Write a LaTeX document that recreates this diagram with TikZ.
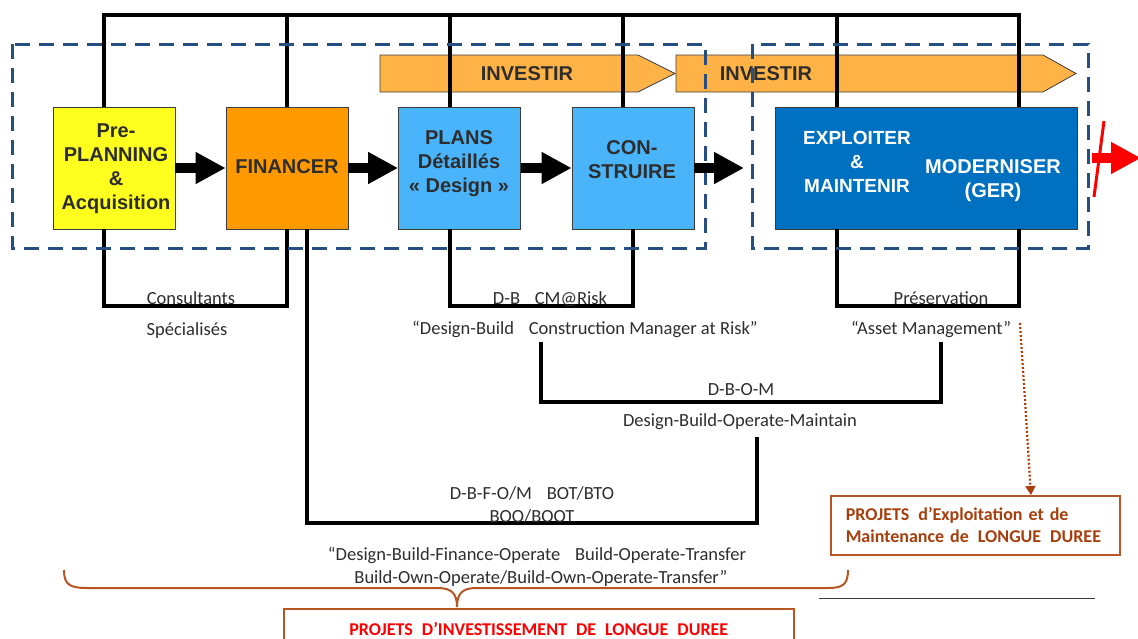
\documentclass[tikz,border=0pt]{standalone}
\usepackage{fontspec}
\setmainfont{Carlito}
\newfontfamily\headfont{Liberation Sans}
\usetikzlibrary{arrows.meta}

\definecolor{prefill}{RGB}{255,255,31}
\definecolor{finfill}{RGB}{255,153,0}
\definecolor{bluelight}{RGB}{74,180,250}
\definecolor{bluedark}{RGB}{0,112,192}
\definecolor{bannerfill}{RGB}{255,179,71}
\definecolor{zoneblue}{RGB}{38,78,128}
\definecolor{edgegray}{RGB}{60,60,60}
\definecolor{inkgray}{RGB}{45,45,45}
\definecolor{boxbrown}{RGB}{185,85,35}
\definecolor{textbrown}{RGB}{168,62,12}

\begin{document}
\begin{tikzpicture}[x=1pt,y=-1pt,
  stage/.style={draw=edgegray, line width=0.8pt, minimum width=122pt, minimum height=122pt, inner sep=0pt},
  stagetext/.style={font=\headfont\bfseries\fontsize{20}{24}\selectfont, text=inkgray, align=center, inner sep=0pt},
  frame/.style={line width=4pt, line join=miter},
  flow/.style={line width=10pt, -{Triangle[length=30pt,width=30pt]}},
  zone/.style={draw=zoneblue, line width=3pt, dash pattern=on 15pt off 9pt},
  banner/.style={fill=bannerfill, draw=edgegray, line width=0.8pt},
  note/.style={font=\fontsize{18.5}{22}\selectfont, text=inkgray, anchor=base, inner sep=0pt},
]
\useasboundingbox (0,0) rectangle (1138,638);

% INVESTIR banners
\path[banner] (380,55) -- (638,55) -- (675,73.5) -- (638,92) -- (380,92) -- cycle;
\path[banner] (676,55) -- (1043,55) -- (1076,73.5) -- (1043,92) -- (676,92) -- cycle;
\node[stagetext] (inv1) at (527,73.5) {INVESTIR};
\node[stagetext] (inv2) at (766,73.5) {INVESTIR};

% stage boxes
\node[stage, fill=prefill] (pre) at (114,168) {};
\node[stage, fill=finfill] (fin) at (287,168) {};
\node[stage, fill=bluelight] (plans) at (459.5,168) {};
\node[stage, fill=bluelight] (con) at (633,168) {};
\node[stage, fill=bluedark, minimum width=302pt] (ops) at (926,168) {};

\node[stagetext] (pre-t) at (116,169) {Pre-\\PLANNING\\\&\\Acquisition};
\node[stagetext] (fin-t) at (287,167) {FINANCER};
\node[stagetext] (plans-t) at (459,164) {PLANS\\Détaillés\\« Design »};
\node[stagetext] (con-t) at (632,160) {CON-\\STRUIRE};
\node[stagetext, text=white, font=\headfont\bfseries\fontsize{19}{24}\selectfont] (ops-t) at (857,162) {EXPLOITER\\\&\\MAINTENIR};
\node[stagetext, text=white] (mod-t) at (993,181) {MODERNISER\\(GER)};

% upper frame
\coordinate (t1) at (104,14.5);
\coordinate (t2) at (287,14.5);
\coordinate (t3) at (450,14.5);
\coordinate (t4) at (623,14.5);
\coordinate (t5) at (837,14.5);
\coordinate (t6) at (1019,14.5);
\draw[frame] (t1 |- pre.north) -- (t1) -- (t6) -- (t6 |- ops.north);
\draw[frame] (t2) -- (t2 |- fin.north);
\draw[frame] (t3) -- (t3 |- plans.north);
\draw[frame] (t4) -- (t4 |- con.north);
\draw[frame] (t5) -- (t5 |- ops.north);

% lower brackets
\coordinate (lvl) at (0,306);
\draw[frame] (t1 |- pre.south) -- (t1 |- lvl) -- (t2 |- lvl) -- (t2 |- fin.south);
\draw[frame] (t3 |- plans.south) -- (t3 |- lvl) -- (con.south |- lvl) -- (con.south);
\draw[frame] (t5 |- ops.south) -- (t5 |- lvl) -- (t6 |- lvl) -- (t6 |- ops.south);

\coordinate (dbom-a) at (541,342);
\coordinate (dbom-b) at (541,402);
\coordinate (dbom-c) at (941,402);
\coordinate (dbom-d) at (941,342);
\draw[frame] (dbom-a) -- (dbom-b) -- (dbom-c) -- (dbom-d);

\coordinate (dbf-b) at (307,523);
\coordinate (dbf-c) at (757,523);
\coordinate (dbf-d) at (757,437);
\draw[frame] (dbf-b |- fin.south) -- (dbf-b) -- (dbf-c) -- (dbf-d);

% dashed zones
\draw[zone] (12,44) rectangle (705,248);
\draw[zone] (752,44) rectangle (1088,248);

% flow arrows
\draw[flow] (pre.east) -- (fin.west);
\draw[flow] (fin.east) -- (plans.west);
\draw[flow] (plans.east) -- (con.west);
\coordinate (con-out) at (744,168);
\draw[flow] (con.east) -- (con-out);

% interrupted exit arrow
\coordinate (exit-a) at (1092,158);
\coordinate (exit-b) at (1141,158);
\draw[flow, red] (exit-a) -- (exit-b);
\coordinate (cut-a) at (1104,121);
\coordinate (cut-b) at (1094,197);
\draw[red, line width=3pt] (cut-a) -- (cut-b);

% bracket labels
\node[note] (cons) at (191,304) {Consultants};
\node[note] (spec) at (187,335) {Spécialisés};
\node[note] (dbcm) at (550,304) {D-B\hspace{0.8em}CM@Risk};
\node[note] (dbcm-l) at (585,334) {“Design-Build\hspace{0.8em}Construction Manager at Risk”};
\node[note] (pres) at (941,304) {Préservation};
\node[note] (asset) at (931,334) {“Asset Management”};
\node[note] (dbom) at (741,395) {D-B-O-M};
\node[note] (dbom-l) at (740,426) {Design-Build-Operate-Maintain};
\node[note] (dbf) at (532,499) {D-B-F-O/M\hspace{0.8em}BOT/BTO};
\node[note] (boo) at (532,522) {BOO/BOOT};
\node[note] (dbf-l1) at (537,560) {“Design-Build-Finance-Operate\hspace{0.8em}Build-Operate-Transfer};
\node[note] (dbf-l2) at (541,583) {Build-Own-Operate/Build-Own-Operate-Transfer”};

% long-term investment brace and box
\draw[boxbrown, line width=2pt] (64,570) .. controls (64,585) and (70,588) .. (88,588) -- (438,588)
  .. controls (452,588) and (457,594) .. (457,607)
  .. controls (457,594) and (462,588) .. (476,588) -- (828,588)
  .. controls (842,588) and (848,585) .. (848,570);
\node[draw=boxbrown, line width=1.5pt, anchor=north west, minimum width=510pt, minimum height=40pt,
  inner sep=0pt, font=\bfseries\fontsize{18}{21}\selectfont, text=red] (invbox) at (283,608)
  {PROJETS\hspace{0.5em}D’INVESTISSEMENT\hspace{0.5em}DE\hspace{0.5em}LONGUE\hspace{0.5em}DUREE};

% operation and maintenance box
\node[draw=boxbrown, line width=1.5pt, anchor=north west, minimum width=289pt, minimum height=59pt,
  text width=259pt, inner xsep=15pt, inner ysep=0pt, align=left,
  font=\bfseries\fontsize{18}{21.5}\selectfont, text=textbrown] (opbox) at (830,495)
  {PROJETS\hspace{0.5em}d’Exploitation et de\\Maintenance de\hspace{0.5em}LONGUE\hspace{0.5em}DUREE};
\coordinate (am-tail) at (1020,323);
\coordinate (am-x) at (1031,0);
\draw[textbrown, line width=2.2pt, dash pattern=on 2pt off 2pt, -{Triangle[length=9pt,width=10pt]}]
  (am-tail) -- (am-x |- opbox.north);

% rule
\coordinate (rule-a) at (819,598);
\coordinate (rule-b) at (1095,598);
\draw[edgegray, line width=1pt] (rule-a) -- (rule-b);
\end{tikzpicture}
\end{document}
